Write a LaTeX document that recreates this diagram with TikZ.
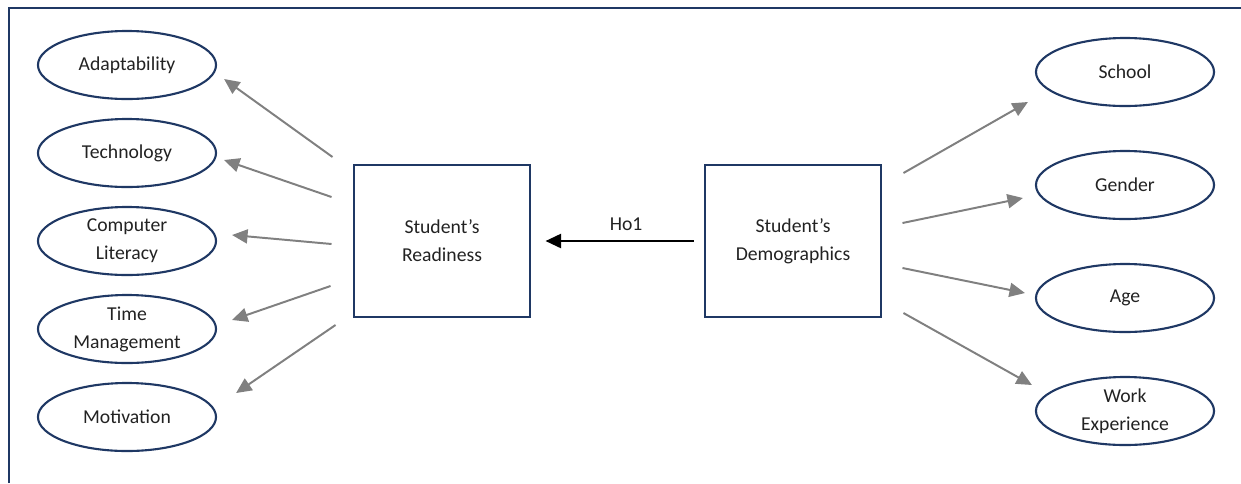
\documentclass[tikz,border=0pt]{standalone}
\usepackage{fontspec}
\setmainfont{Carlito}
\usepackage{tikz}
\usetikzlibrary{shapes, arrows.meta, positioning, calc}

\definecolor{navy}{HTML}{1F3864}
\definecolor{arrowgray}{HTML}{808080}
\definecolor{textdark}{HTML}{222222}

\tikzset{
    factor/.style={ellipse, draw=navy, line width=1.5pt, minimum width=4.45cm, minimum height=1.7cm,
        inner sep=0pt, align=center, text=textdark, font=\fontsize{14}{20}\selectfont},
    construct/.style={rectangle, draw=navy, line width=1.5pt, minimum width=4.42cm, minimum height=3.82cm,
        inner sep=0pt, align=center, text=textdark, font=\fontsize{14}{20}\selectfont},
    leadarrow/.style={draw=arrowgray, line width=1.4pt, -{Triangle[length=11pt, width=10pt]}},
    mainarrow/.style={draw=black, line width=1.5pt, -{Triangle[length=11pt, width=10pt]}},
    frameline/.style={draw=navy, line width=1.6pt}
}

\begin{document}
\begin{tikzpicture}[x=0.025cm, y=-0.025cm]
        \useasboundingbox (0,0) rectangle (1241,483);
        \draw[frameline] (9,483) -- (9,8) -- (1241,8);

        % Readiness factors
        \foreach \n/\y/\t in {adapt/65/Adaptability, tech/153/Technology, comp/241/{Computer\\Literacy},
                              time/329/{Time\\Management}, motiv/417/Motivation} {
            \node[factor] (\n) at (127,\y) {\t};
        }

        % Demographic factors
        \foreach \n/\y/\t in {school/72/School, gender/185/Gender, age/298/Age, work/411/{Work\\Experience}} {
            \node[factor] (\n) at (1125,\y) {\t};
        }

        % Main constructs
        \node[construct] (rd) at (442,241) {Student’s\\Readiness};
        \node[construct] (dm) at (793,241) {Student’s\\Demographics};

        % Hypothesis
        \draw[mainarrow, shorten <=7pt, shorten >=10pt] (dm.west) -- node[above=3pt, pos=0.45, text=textdark, font=\fontsize{14}{20}\selectfont] {Ho1} (rd.east);

        % Arrow ends, left
        \coordinate (rs1) at ($(rd.west)+(-20,-84)$);
        \coordinate (rs2) at ($(rd.west)+(-21,-44)$);
        \coordinate (rs3) at ($(rd.west)+(-21,3)$);
        \coordinate (rs4) at ($(rd.west)+(-22,45)$);
        \coordinate (rs5) at ($(rd.west)+(-17,84)$);
        \coordinate (re1) at ($(adapt.east)+(7,14)$);
        \coordinate (re2) at ($(tech.east)+(7,7)$);
        \coordinate (re3) at ($(comp.east)+(15,-6)$);
        \coordinate (re4) at ($(time.east)+(15,-9)$);
        \coordinate (re5) at ($(motiv.east)+(19,-24)$);

        % Arrow ends, right
        \coordinate (ds1) at ($(dm.east)+(21,-68)$);
        \coordinate (ds2) at ($(dm.east)+(20,-18)$);
        \coordinate (ds3) at ($(dm.east)+(20,27)$);
        \coordinate (ds4) at ($(dm.east)+(21,72)$);
        \coordinate (de1) at ($(school.west)+(-7,30)$);
        \coordinate (de2) at ($(gender.west)+(-12,13)$);
        \coordinate (de3) at ($(age.west)+(-10,-5)$);
        \coordinate (de4) at ($(work.west)+(-3,-26)$);

        \foreach \i in {1,...,5} {
            \draw[leadarrow] (rs\i) -- (re\i);
        }
        \foreach \i in {1,...,4} {
            \draw[leadarrow] (ds\i) -- (de\i);
        }

    \end{tikzpicture}
\end{document}
